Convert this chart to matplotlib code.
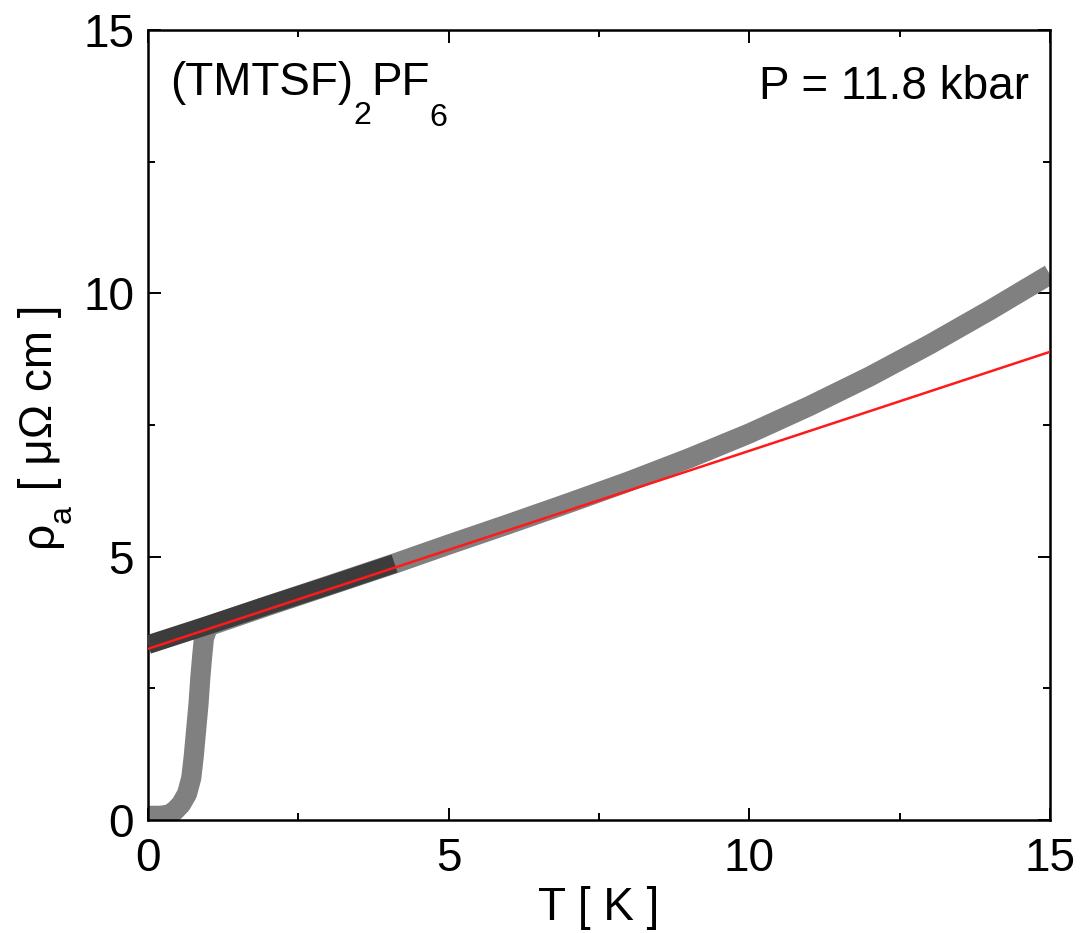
import matplotlib
matplotlib.use('Agg')
import matplotlib.pyplot as plt
from matplotlib.ticker import MultipleLocator

plt.rcParams['font.family'] = ['Liberation Sans', 'DejaVu Sans']

# zero-field data (with the superconducting drop)
gray_T = [0.0, 0.2, 0.35, 0.45, 0.55, 0.65, 0.72, 0.76, 0.8, 0.84, 0.87, 0.9, 0.93,
          1.0, 2.0, 3.0, 4.1, 5.0, 6.0, 7.0, 8.0, 9.0, 10.0, 11.0,
          12.0, 13.0, 14.0, 15.0]
gray_rho = [0.08, 0.08, 0.1, 0.18, 0.3, 0.5, 0.8, 1.2, 1.7, 2.2, 2.7, 3.1, 3.45,
            3.68, 4.07, 4.45, 4.87, 5.23, 5.62, 6.02, 6.43, 6.87, 7.34, 7.86,
            8.42, 9.03, 9.68, 10.36]

# normal state under field
dark_T = [0.0, 1.0, 2.0, 3.0, 4.1]
dark_rho = [3.33, 3.70, 4.08, 4.45, 4.87]

# linear fit
fit_T = [0.0, 15.0]
fit_rho = [3.25, 8.89]

fig = plt.figure(figsize=(10.81, 9.33), dpi=100)
ax = fig.add_axes([0.1369, 0.1211, 0.8344, 0.8467])

ax.plot(gray_T, gray_rho, color='#808080', lw=14.5, solid_capstyle='butt',
        solid_joinstyle='round', zorder=2)
ax.plot(dark_T, dark_rho, color='#3c3c3c', lw=13.5, solid_capstyle='butt', zorder=3)
ax.plot(fit_T, fit_rho, color='#ff1a1a', lw=1.8, zorder=4)

ax.set_xlim(0, 15)
ax.set_ylim(0, 15)
ax.xaxis.set_major_locator(MultipleLocator(5))
ax.xaxis.set_minor_locator(MultipleLocator(2.5))
ax.yaxis.set_major_locator(MultipleLocator(5))
ax.yaxis.set_minor_locator(MultipleLocator(2.5))
ax.tick_params(which='both', direction='in', top=True, right=True, width=1.4,
               labelsize=33)
ax.tick_params(which='major', length=9)
ax.tick_params(which='minor', length=5)
ax.tick_params(axis='x', pad=12)
ax.tick_params(axis='y', pad=10)
for s in ax.spines.values():
    s.set_linewidth(1.8)

ax.set_xlabel('T [ K ]', fontsize=33)
ax.xaxis.set_label_coords(0.5, -0.0835)

# y label built from pieces so the subscript sits low like the original
fs = 33
r1 = ax.annotate('ρ', xy=(-0.0953, 0.345), xycoords='axes fraction',
                 rotation=90, ha='right', va='bottom', fontsize=fs)
r2 = ax.annotate('a', xy=(1, 1), xycoords=r1, xytext=(11, -1),
                 textcoords='offset points', rotation=90, ha='right',
                 va='bottom', fontsize=fs * 0.7)
ax.annotate(' [ μΩ cm ]', xy=(1, 1), xycoords=(r1, r2), xytext=(0, 1),
            textcoords='offset points', rotation=90, ha='right',
            va='bottom', fontsize=fs)

# sample label
t1 = ax.text(0.0244, 0.9177, '(TMTSF)', transform=ax.transAxes,
             ha='left', va='baseline', fontsize=fs)
t2 = ax.annotate('2', xy=(1, 0), xycoords=t1, xytext=(0, -19),
                 textcoords='offset points', ha='left', va='bottom', fontsize=fs * 0.7)
t3 = ax.annotate('PF', xy=(1, 0), xycoords=(t2, t1), ha='left', va='bottom',
                 fontsize=fs)
ax.annotate('6', xy=(1, 0), xycoords=t3, xytext=(0, -20),
            textcoords='offset points', ha='left', va='bottom', fontsize=fs * 0.7)

ax.text(0.9767, 0.9127, 'P = 11.8 kbar', transform=ax.transAxes,
        ha='right', va='baseline', fontsize=fs)

fig.savefig('out.png', dpi=100)
